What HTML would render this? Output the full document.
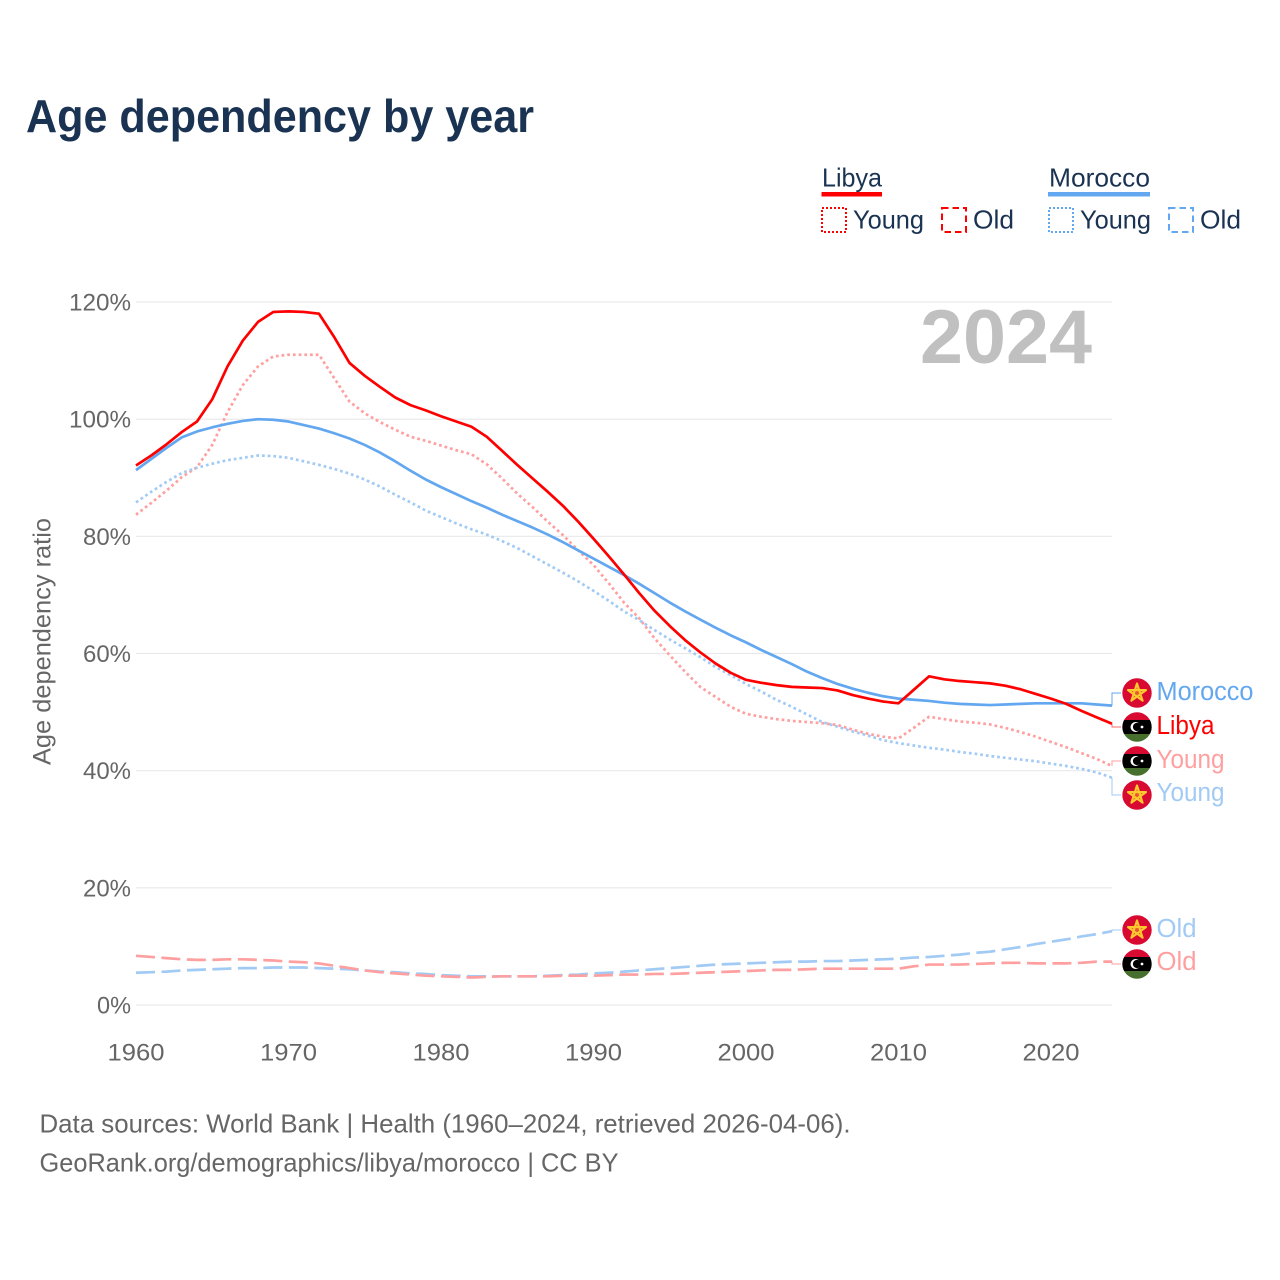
<!DOCTYPE html>
<html lang="en">
<head>
<meta charset="utf-8">
<title>Age dependency by year</title>
<style>
html,body{margin:0;padding:0;background:#fff;}
svg{display:block;font-family:"Liberation Sans",sans-serif;}
</style>
</head>
<body>
<svg id="chart" xmlns="http://www.w3.org/2000/svg" width="1280" height="1280" viewBox="0 0 1280 1280">
  <defs>
    <clipPath id="flag-clip"><circle cx="0" cy="0" r="14.7"/></clipPath>
    <g id="flag-morocco">
      <circle r="14.7" fill="#d90a32"/>
      <path d="M0,-9.5 L5.6,7.7 L-9,-2.9 L9,-2.9 L-5.6,7.7 Z" fill="#fbb92f" fill-opacity="0.45" stroke="#fdc92f" stroke-width="2.1" stroke-linejoin="round"/>
    </g>
    <g id="flag-libya">
      <g clip-path="url(#flag-clip)">
        <rect x="-15" y="-15" width="30" height="8" fill="#d90a32"/>
        <rect x="-15" y="-7" width="30" height="14" fill="#000"/>
        <rect x="-15" y="7" width="30" height="8" fill="#47702e"/>
      </g>
      <circle cx="-1.5" cy="0" r="5" fill="#fff"/>
      <circle cx="0" cy="0" r="4.1" fill="#000"/>
      <circle cx="5" cy="0" r="1.4" fill="#fff"/>
    </g>
  </defs>
  <rect x="0" y="0" width="1280" height="1280" fill="#fff"/>

  <text x="26" y="132" font-size="46" font-weight="700" fill="#1a3352" textLength="508" lengthAdjust="spacingAndGlyphs">Age dependency by year</text>

  <g>
    <text x="822" y="186.5" font-size="26" fill="#1a3352" textLength="60" lengthAdjust="spacingAndGlyphs">Libya</text>
    <rect x="821.5" y="192" width="60.5" height="4.5" fill="#ff0000"/>
    <rect x="822" y="208" width="24" height="24" fill="none" stroke="#ff0000" stroke-width="2" stroke-dasharray="2 2"/>
    <text x="853" y="228.5" font-size="26" fill="#1a3352" textLength="71" lengthAdjust="spacingAndGlyphs">Young</text>
    <rect x="942" y="208" width="24" height="24" fill="none" stroke="#ff0000" stroke-width="2" stroke-dasharray="6.5 4"/>
    <text x="973" y="228.5" font-size="26" fill="#1a3352" textLength="41" lengthAdjust="spacingAndGlyphs">Old</text>
    <text x="1049" y="186.5" font-size="26" fill="#1a3352" textLength="101" lengthAdjust="spacingAndGlyphs">Morocco</text>
    <rect x="1048" y="192" width="102" height="4.5" fill="#62a7ef"/>
    <rect x="1049" y="208" width="24" height="24" fill="none" stroke="#62a7ef" stroke-width="2" stroke-dasharray="2 2"/>
    <text x="1080" y="228.5" font-size="26" fill="#1a3352" textLength="71" lengthAdjust="spacingAndGlyphs">Young</text>
    <rect x="1169" y="208" width="24" height="24" fill="none" stroke="#62a7ef" stroke-width="2" stroke-dasharray="6.5 4"/>
    <text x="1200" y="228.5" font-size="26" fill="#1a3352" textLength="41" lengthAdjust="spacingAndGlyphs">Old</text>
  </g>

  <g id="grid"></g>
  <g id="y-axis"></g>
  <g id="x-axis"></g>

  <text transform="translate(50.5,765) rotate(-90)" font-size="25" fill="#666" textLength="247" lengthAdjust="spacingAndGlyphs">Age dependency ratio</text>
  <text x="920" y="363" font-size="76" font-weight="700" fill="#c0c0c0" textLength="172" lengthAdjust="spacingAndGlyphs">2024</text>

  <g id="series"></g>
  <g id="connectors"></g>

  <g id="end-labels">
    <use href="#flag-morocco" x="1137" y="693"/>
    <text x="1156.5" y="700" font-size="25.5" fill="#62a7ef" textLength="97" lengthAdjust="spacingAndGlyphs">Morocco</text>
    <use href="#flag-libya" x="1137" y="727"/>
    <text x="1156.5" y="734" font-size="25.5" fill="#ff0000" textLength="58" lengthAdjust="spacingAndGlyphs">Libya</text>
    <use href="#flag-libya" x="1137" y="761"/>
    <text x="1156.5" y="768" font-size="25.5" fill="#ff9f9f" textLength="68" lengthAdjust="spacingAndGlyphs">Young</text>
    <use href="#flag-morocco" x="1137" y="795"/>
    <text x="1156.5" y="801" font-size="25.5" fill="#a1caf5" textLength="68" lengthAdjust="spacingAndGlyphs">Young</text>
    <use href="#flag-morocco" x="1137" y="930"/>
    <text x="1156.5" y="937" font-size="25.5" fill="#a1caf5" textLength="40" lengthAdjust="spacingAndGlyphs">Old</text>
    <use href="#flag-libya" x="1137" y="964"/>
    <text x="1156.5" y="970" font-size="25.5" fill="#ff9f9f" textLength="40" lengthAdjust="spacingAndGlyphs">Old</text>
  </g>

  <text x="39.5" y="1132.5" font-size="26" fill="#666" textLength="811" lengthAdjust="spacingAndGlyphs">Data sources: World Bank | Health (1960–2024, retrieved 2026-04-06).</text>
  <text x="39.5" y="1171.5" font-size="26" fill="#666" textLength="579" lengthAdjust="spacingAndGlyphs">GeoRank.org/demographics/libya/morocco | CC BY</text>
</svg>

<script>
const startYear = 1960;
const yTickValues = [0, 20, 40, 60, 80, 100, 120];
const xTickValues = [1960, 1970, 1980, 1990, 2000, 2010, 2020];

const moroccoTotal = [
  91.3, 93.2, 95.1, 96.9, 97.9, 98.6, 99.2, 99.7, 100.0, 99.9,
  99.6, 99.0, 98.4, 97.6, 96.7, 95.6, 94.3, 92.8, 91.2, 89.7,
  88.4, 87.2, 86.0, 84.9, 83.7, 82.6, 81.5, 80.3, 79.0, 77.6,
  76.2, 74.8, 73.4, 71.9, 70.3, 68.7, 67.2, 65.8, 64.4, 63.1,
  61.9, 60.6, 59.4, 58.2, 56.9, 55.8, 54.8, 54.0, 53.3, 52.7,
  52.3, 52.1, 51.9, 51.6, 51.4, 51.3, 51.2, 51.3, 51.4, 51.5,
  51.5, 51.5, 51.5, 51.3, 51.1
];
const libyaTotal = [
  92.1, 93.8, 95.7, 97.8, 99.6, 103.4, 109.0, 113.4, 116.6, 118.3,
  118.4, 118.3, 118.0, 114.0, 109.6, 107.4, 105.5, 103.7, 102.4, 101.5,
  100.5, 99.6, 98.7, 97.0, 94.6, 92.2, 89.9, 87.6, 85.2, 82.5,
  79.6, 76.6, 73.5, 70.3, 67.3, 64.7, 62.3, 60.2, 58.3, 56.7,
  55.5, 55.0, 54.6, 54.3, 54.2, 54.1, 53.7, 52.9, 52.3, 51.8,
  51.5, 53.8, 56.1, 55.6, 55.3, 55.1, 54.9, 54.5, 53.9, 53.1,
  52.3, 51.4, 50.2, 49.1, 48.0
];
const moroccoYoung = [
  85.8, 87.6, 89.3, 90.8, 91.7, 92.4, 93.0, 93.4, 93.8, 93.7,
  93.4, 92.8, 92.2, 91.5, 90.7, 89.7, 88.5, 87.1, 85.8, 84.4,
  83.3, 82.2, 81.2, 80.3, 79.2, 78.0, 76.6, 75.2, 73.8, 72.3,
  70.7, 69.0, 67.2, 65.7, 64.0, 62.4, 60.9, 59.4, 57.7, 56.3,
  54.8, 53.5, 52.1, 50.9, 49.6, 48.3, 47.5, 46.7, 46.0, 45.2,
  44.7, 44.3, 43.9, 43.6, 43.2, 42.9, 42.5, 42.2, 41.9, 41.6,
  41.2, 40.8, 40.3, 39.7, 38.8
];
const libyaYoung = [
  83.7, 85.7, 87.8, 90.1, 91.8, 95.6, 101.2, 105.8, 109.0, 110.7,
  111.0, 111.0, 111.0, 107.0, 103.0, 101.0, 99.5, 98.2, 97.0, 96.3,
  95.5, 94.7, 94.0, 92.3, 89.9, 87.3, 85.0, 82.5, 80.2, 77.6,
  75.1, 72.0, 68.7, 66.0, 62.6, 59.7, 56.9, 54.3, 52.6, 50.9,
  49.7, 49.2, 48.8, 48.5, 48.3, 48.1, 47.8, 47.0, 46.3, 45.8,
  45.5, 47.3, 49.2, 48.8, 48.4, 48.2, 47.9, 47.3, 46.6, 45.8,
  44.9, 44.0, 43.0, 42.0, 40.8
];
const moroccoOld = [
  5.5, 5.6, 5.7, 5.9, 6.0, 6.1, 6.2, 6.3, 6.3, 6.4,
  6.4, 6.4, 6.3, 6.2, 6.1, 5.9, 5.7, 5.6, 5.4, 5.3,
  5.1, 5.0, 4.9, 4.9, 4.9, 4.9, 4.9, 5.0, 5.1, 5.2,
  5.4, 5.5, 5.7, 5.9, 6.1, 6.3, 6.5, 6.7, 6.9, 7.0,
  7.1, 7.2, 7.3, 7.4, 7.4, 7.5, 7.5, 7.6, 7.7, 7.8,
  7.9, 8.1, 8.2, 8.4, 8.6, 8.9, 9.1, 9.5, 9.9, 10.4,
  10.8, 11.2, 11.7, 12.1, 12.6
];
const libyaOld = [
  8.4, 8.2, 8.0, 7.8, 7.7, 7.7, 7.8, 7.8, 7.7, 7.6,
  7.4, 7.3, 7.1, 6.7, 6.3, 5.9, 5.6, 5.4, 5.2, 5.0,
  4.9, 4.8, 4.7, 4.8, 4.9, 4.9, 4.9, 4.9, 5.0, 5.0,
  5.0, 5.1, 5.2, 5.2, 5.3, 5.3, 5.4, 5.5, 5.6, 5.7,
  5.8, 5.9, 6.0, 6.0, 6.1, 6.2, 6.2, 6.2, 6.2, 6.2,
  6.2, 6.6, 6.9, 6.9, 6.9, 7.0, 7.1, 7.2, 7.2, 7.1,
  7.1, 7.1, 7.2, 7.4, 7.4
];

const SVG_NS = 'http://www.w3.org/2000/svg';
function xScale(year) { return 136 + (year - 1960) * (1112 - 136) / (2024 - 1960); }
function yScale(pct) { return 1005 - pct * (1005 - 302) / 120; }

const gridLayer = document.getElementById('grid');
const yAxisLayer = document.getElementById('y-axis');
const xAxisLayer = document.getElementById('x-axis');
const seriesLayer = document.getElementById('series');
const connectorLayer = document.getElementById('connectors');

yTickValues.forEach(function (v) {
  const line = document.createElementNS(SVG_NS, 'line');
  
  
  line.setAttribute('x1', xScale(1960));
  line.setAttribute('x2', xScale(2024));
  line.setAttribute('y1', yScale(v));
  line.setAttribute('y2', yScale(v));
  line.setAttribute('stroke', '#e9e9e9');
  line.setAttribute('stroke-width', '1.2');
  gridLayer.appendChild(line);

  const label = v + '%';
  const text = document.createElementNS(SVG_NS, 'text');
  
  
  text.setAttribute('x', 131);
  text.setAttribute('y', yScale(v) + 8.5);
  text.setAttribute('text-anchor', 'end');
  text.setAttribute('font-size', '24');
  text.setAttribute('fill', '#666');
  text.setAttribute('textLength', 14 * label.length + 6);
  text.setAttribute('lengthAdjust', 'spacingAndGlyphs');
  text.textContent = label;
  yAxisLayer.appendChild(text);
});

xTickValues.forEach(function (year) {
  const text = document.createElementNS(SVG_NS, 'text');
  
  
  text.setAttribute('x', xScale(year));
  text.setAttribute('y', 1060.5);
  text.setAttribute('text-anchor', 'middle');
  text.setAttribute('font-size', '24');
  text.setAttribute('fill', '#666');
  text.setAttribute('textLength', '57');
  text.setAttribute('lengthAdjust', 'spacingAndGlyphs');
  text.textContent = year;
  xAxisLayer.appendChild(text);
});

function linePath(values) {
  return values.map(function (v, i) {
    return (i ? 'L' : 'M') + xScale(startYear + i).toFixed(2) + ',' + yScale(v).toFixed(2);
  }).join(' ');
}

function drawSeries(name, values, color, dash) {
  const path = document.createElementNS(SVG_NS, 'path');
  
  
  path.setAttribute('d', linePath(values));
  path.setAttribute('fill', 'none');
  path.setAttribute('stroke', color);
  path.setAttribute('stroke-width', '2.7');
  path.setAttribute('stroke-linejoin', 'round');
  if (dash) path.setAttribute('stroke-dasharray', dash);
  seriesLayer.appendChild(path);
}

drawSeries('line-morocco-old', moroccoOld, '#a1caf5', '19 6.5');
drawSeries('line-libya-old', libyaOld, '#ff9f9f', '19 6.5');
drawSeries('line-libya-young', libyaYoung, '#ff9f9f', '2.7 3');
drawSeries('line-morocco-young', moroccoYoung, '#a1caf5', '2.7 3');
drawSeries('line-morocco-total', moroccoTotal, '#62a7ef', '');
drawSeries('line-libya-total', libyaTotal, '#ff0000', '');

function drawConnector(name, value, labelY, color) {
  const path = document.createElementNS(SVG_NS, 'path');
  
  
  const startX = xScale(2024);
  path.setAttribute('d', 'M' + startX + ',' + yScale(value).toFixed(2) + ' V' + labelY + ' H1121');
  path.setAttribute('fill', 'none');
  path.setAttribute('stroke', color);
  path.setAttribute('stroke-width', '1');
  connectorLayer.appendChild(path);
}

drawConnector('connector-morocco', moroccoTotal[64], 693, '#62a7ef');
drawConnector('connector-libya', libyaTotal[64], 727, '#ff6a6a');
drawConnector('connector-libya-young', libyaYoung[64], 761, '#ff9f9f');
drawConnector('connector-morocco-young', moroccoYoung[64], 795, '#a1caf5');
drawConnector('connector-morocco-old', moroccoOld[64], 930, '#a1caf5');
drawConnector('connector-libya-old', libyaOld[64], 964, '#ff9f9f');
</script>
</body>
</html>
